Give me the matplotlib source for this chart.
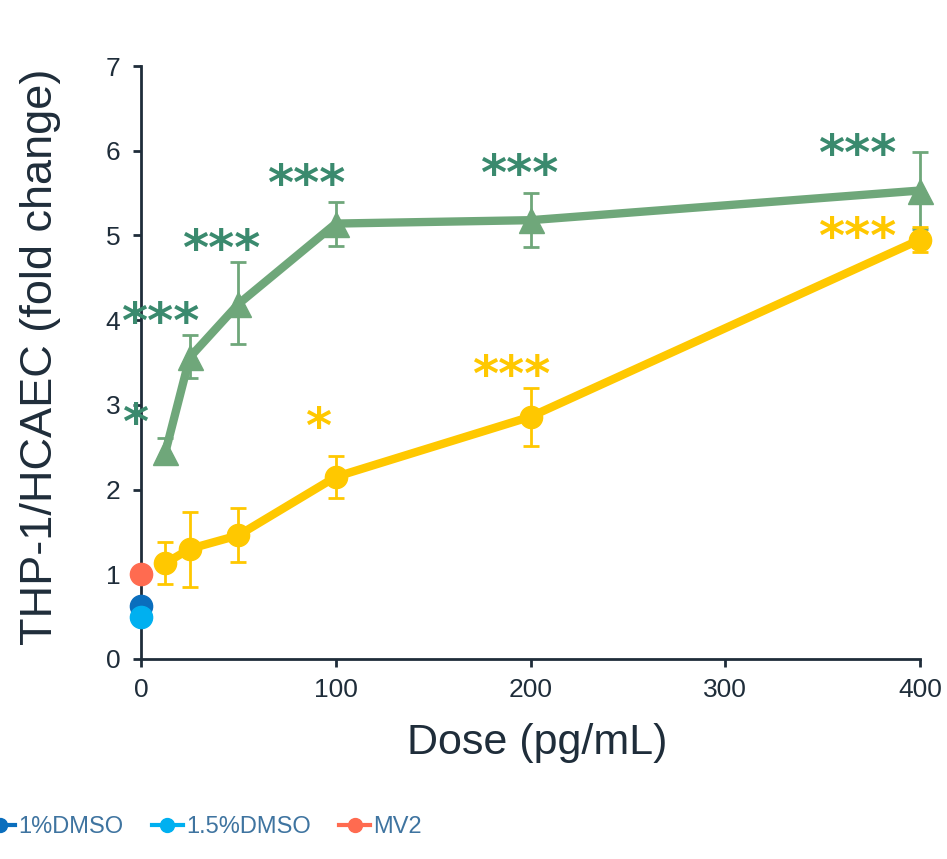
import matplotlib
matplotlib.use("Agg")
import matplotlib.pyplot as plt
from matplotlib.lines import Line2D
import numpy as np

plt.rcParams['font.family'] = ['Liberation Sans', 'DejaVu Sans']

# ---- data ----
doses = [12.5, 25, 50, 100, 200, 400]
green_vals = [2.44, 3.56, 4.19, 5.14, 5.18, 5.53]
green_err_up = [0.17, 0.26, 0.50, 0.26, 0.32, 0.45]
green_err_dn = [0.10, 0.24, 0.47, 0.26, 0.32, 0.45]
yellow_vals = [1.13, 1.30, 1.46, 2.15, 2.86, 4.95]
yellow_err_up = [0.25, 0.44, 0.32, 0.25, 0.34, 0.15]
yellow_err_dn = [0.24, 0.45, 0.31, 0.25, 0.35, 0.15]

ctrl_labels = ['1%DMSO', '1.5%DMSO', 'MV2']
ctrl_vals = [0.62, 0.49, 1.00]
ctrl_colors = ['#0A6EBD', '#00B0F0', '#FF6B50']

green_stars = [(-3, 2.76, '*'), (10, 3.96, '***'), (41, 4.82, '***'),
               (85, 5.58, '***'), (194, 5.70, '***'), (368, 5.94, '***')]
yellow_stars = [(91, 2.72, '*'), (190, 3.33, '***'), (368, 4.96, '***')]

xticks = [0, 100, 200, 300, 400]
yticks = [0, 1, 2, 3, 4, 5, 6, 7]

GREEN = '#6FA77A'
GREEN_STAR = '#3A8A6E'
YELLOW = '#FFC800'
DARK = '#1F2D3A'

fig = plt.figure(figsize=(9.47, 8.59), dpi=100)
ax = fig.add_axes([141/947, 200/859, 779/947, 593/859])

ax.errorbar(doses, green_vals, yerr=[green_err_dn, green_err_up], color=GREEN,
            lw=6, marker='^', ms=18, ecolor=GREEN, elinewidth=2, capsize=6,
            capthick=2, clip_on=False, zorder=3)
ax.errorbar(doses, yellow_vals, yerr=[yellow_err_dn, yellow_err_up], color=YELLOW,
            lw=6, marker='o', ms=16, ecolor=YELLOW, elinewidth=2, capsize=6,
            capthick=2, clip_on=False, zorder=4)

handles = []
for lab, v, c in zip(ctrl_labels, ctrl_vals, ctrl_colors):
    ax.plot([0], [v], marker='o', ms=16, color=c, clip_on=False, zorder=5, lw=0)
    handles.append(Line2D([0], [0], color=c, lw=3, marker='o', ms=10, label=lab))

for x, y, s in green_stars:
    ax.text(x, y, s, color=GREEN_STAR, fontsize=36, fontweight='bold',
            ha='center', va='center', family='DejaVu Sans', zorder=6)
for x, y, s in yellow_stars:
    ax.text(x, y, s, color=YELLOW, fontsize=36, fontweight='bold',
            ha='center', va='center', family='DejaVu Sans', zorder=6)

ax.set_xlim(0, 400)
ax.set_ylim(0, 7)
ax.set_xticks(xticks)
ax.set_yticks(yticks)
for sp in ['top', 'right']:
    ax.spines[sp].set_visible(False)
for sp in ['left', 'bottom']:
    ax.spines[sp].set_color(DARK)
    ax.spines[sp].set_linewidth(2)
ax.tick_params(axis='both', colors=DARK, labelsize=19, width=2, length=6,
               direction='out')
ax.tick_params(axis='y', pad=9)
ax.tick_params(axis='x', pad=8)

ax.set_xlabel('Dose (pg/mL)', fontsize=31, color=DARK, labelpad=15, x=0.508)
ax.set_ylabel('THP-1/HCAEC (fold change)', fontsize=32.5, color=DARK,
              labelpad=32, y=0.51)

fs = 17
leg = fig.legend(handles=handles, loc='center left',
                 bbox_to_anchor=(-37/947, 0.0373),
                 ncol=3, frameon=False, handlelength=1.3,
                 handletextpad=0.15, columnspacing=1.2, borderpad=0.4,
                 prop={'family': 'Liberation Sans', 'size': fs})
for t in leg.get_texts():
    t.set_color('#3F74A0')

fig.savefig('out.png', dpi=100)
